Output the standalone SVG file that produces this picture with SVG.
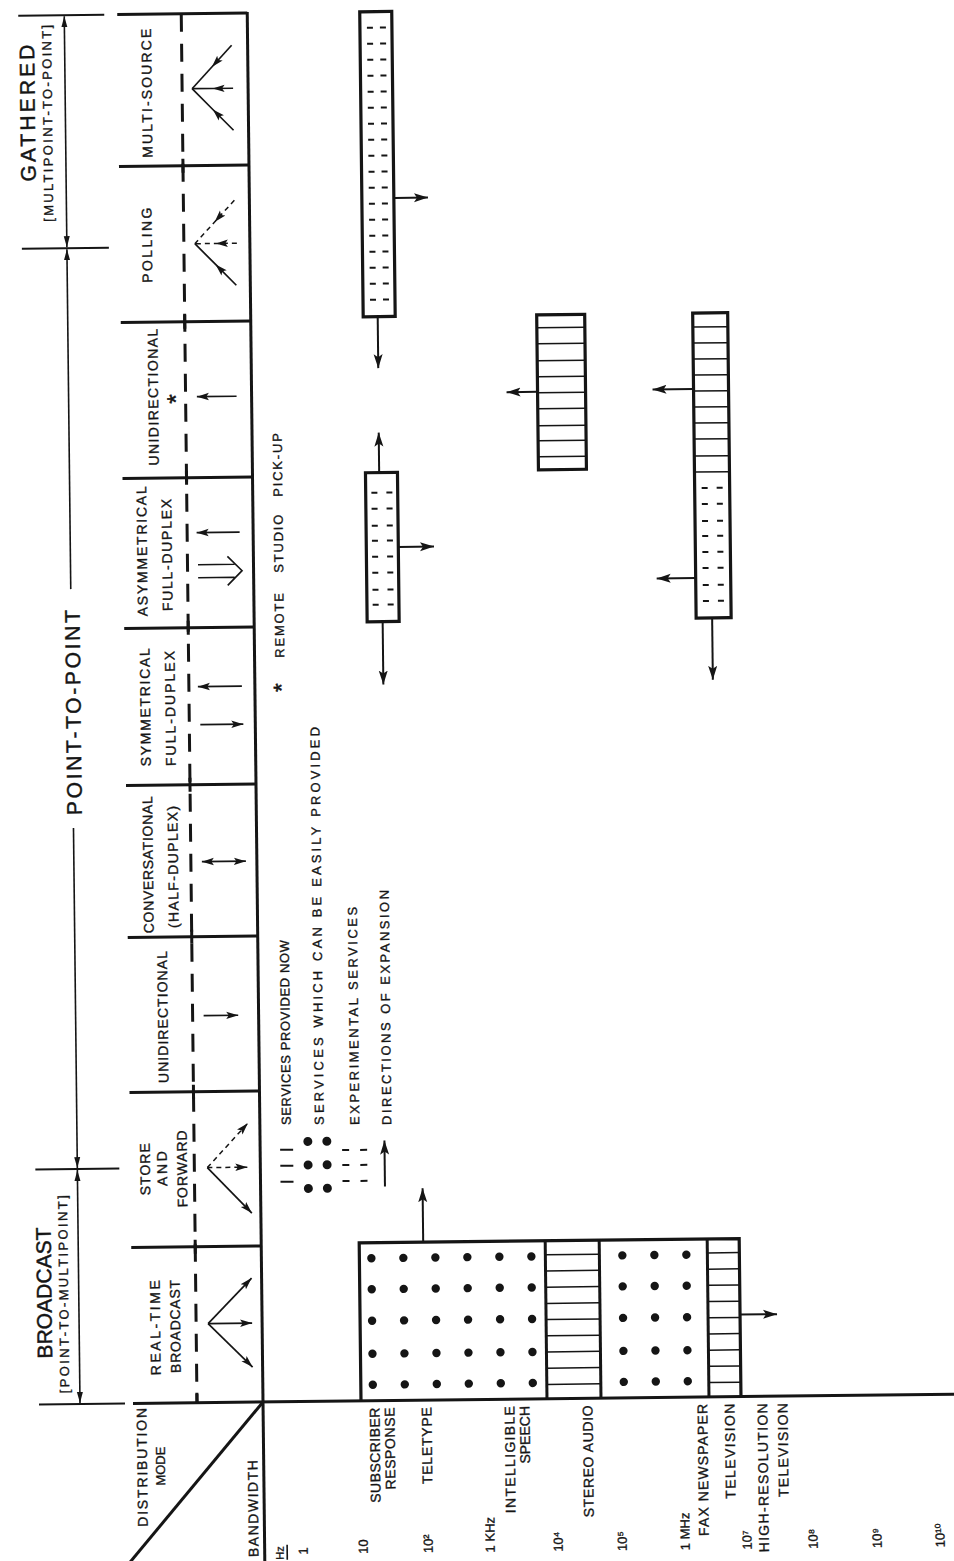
<svg xmlns="http://www.w3.org/2000/svg" width="954" height="1561" viewBox="0 0 954 1561">
<style>
 .ax{stroke:#151515;stroke-width:3;fill:none}
 .tk{stroke:#151515;stroke-width:2;fill:none}
 .dl{stroke:#151515;stroke-width:3;fill:none;stroke-dasharray:18 12}
 .br{stroke:#151515;stroke-width:1.6;fill:none}
 .ar{stroke:#151515;stroke-width:1.7;fill:none;marker-end:url(#ah)}
 .ard{stroke:#151515;stroke-width:1.5;fill:none;stroke-dasharray:5 4;marker-end:url(#ah)}
 .am{stroke:#151515;stroke-width:1.7;fill:none;marker-mid:url(#ah)}
 .amd{stroke:#151515;stroke-width:1.5;fill:none;stroke-dasharray:5 4;marker-mid:url(#ah)}
 .box{fill:none;stroke:#151515;stroke-width:3.2;stroke-linejoin:miter}
 .ht{stroke:#151515;stroke-width:1.5}
 .ds{stroke:#151515;stroke-width:2}
 .xp{stroke:#151515;stroke-width:2;fill:none;marker-end:url(#ahL)}
 .dot{fill:#151515}
 text{font-family:"Liberation Sans","DejaVu Sans",Arial,sans-serif;fill:#151515;stroke:#151515;stroke-width:0.35}
 .lb{font-size:14px}
 .lg{font-size:13px}
 .sc{font-size:13px}
 .big{font-size:21px;stroke-width:0.45}
 .ast{stroke-width:0.6}
</style>
<defs>
 <marker id="ah" markerUnits="userSpaceOnUse" markerWidth="14" markerHeight="10" refX="12" refY="5" orient="auto-start-reverse"><path d="M0,1.3 L12,5 L0,8.7 L2.5,5 Z" fill="#151515"/></marker>
 <marker id="ahL" markerUnits="userSpaceOnUse" markerWidth="16" markerHeight="12" refX="14" refY="6" orient="auto"><path d="M0,1.5 L14,6 L0,10.5 L3,6 Z" fill="#151515"/></marker>
 <marker id="ahB" markerUnits="userSpaceOnUse" markerWidth="12" markerHeight="8" refX="11" refY="4" orient="auto-start-reverse"><path d="M0,1 L11,4 L0,7 Z" fill="#151515"/></marker>
</defs>
<rect width="954" height="1561" fill="#ffffff"/>
<g transform="rotate(-0.65 263 1402)">

<g id="frame">
 <line class="ax" x1="263" y1="12" x2="263" y2="1570"/>
 <line class="ax" x1="133" y1="1402" x2="962" y2="1402"/>
 <line class="ax" x1="263" y1="1402" x2="122" y2="1568"/>
 <g class="ax">
  <line x1="133" y1="13" x2="263" y2="13"/>
  <line x1="133" y1="165" x2="263" y2="165"/>
  <line x1="133" y1="321" x2="263" y2="321"/>
  <line x1="133" y1="477" x2="263" y2="477"/>
  <line x1="133" y1="627" x2="263" y2="627"/>
  <line x1="133" y1="784" x2="263" y2="784"/>
  <line x1="133" y1="936" x2="263" y2="936"/>
  <line x1="133" y1="1091" x2="263" y2="1091"/>
  <line x1="133" y1="1246" x2="263" y2="1246"/>
 </g>
 <line class="dl" x1="197" y1="13" x2="197" y2="1402"/>
 <g class="ax">
  <line x1="197" y1="158" x2="197" y2="172"/>
  <line x1="197" y1="314" x2="197" y2="328"/>
  <line x1="197" y1="470" x2="197" y2="484"/>
  <line x1="197" y1="620" x2="197" y2="634"/>
  <line x1="197" y1="777" x2="197" y2="791"/>
  <line x1="197" y1="929" x2="197" y2="943"/>
  <line x1="197" y1="1084" x2="197" y2="1098"/>
  <line x1="197" y1="1239" x2="197" y2="1253"/>
  <line x1="197" y1="1392" x2="197" y2="1402"/>
 </g>
</g>

<g id="brackets">
 <g class="tk">
  <line x1="34" y1="13" x2="120" y2="13"/>
  <line x1="35" y1="246" x2="122" y2="246"/>
  <line x1="38" y1="1167" x2="122" y2="1167"/>
  <line x1="39" y1="1402" x2="125" y2="1402"/>
 </g>
 <line class="br" x1="80" y1="14" x2="80" y2="245" marker-start="url(#ahB)" marker-end="url(#ahB)"/>
 <line class="br" x1="80" y1="247" x2="80" y2="587" marker-start="url(#ahB)"/>
 <line class="br" x1="80" y1="826" x2="80" y2="1166" marker-end="url(#ahB)"/>
 <line class="br" x1="80" y1="1168" x2="80" y2="1401" marker-start="url(#ahB)" marker-end="url(#ahB)"/>
 <text class="big" transform="translate(49.5,110.5) rotate(-90)" text-anchor="middle" textLength="137" lengthAdjust="spacing">GATHERED</text>
 <text class="lg" transform="translate(66.7,121) rotate(-90)" text-anchor="middle" textLength="197" lengthAdjust="spacing">[MULTIPOINT-TO-POINT]</text>
 <text class="big" transform="translate(88.5,710.5) rotate(-90)" text-anchor="middle" textLength="205" lengthAdjust="spacing">POINT-TO-POINT</text>
 <text class="big" transform="translate(52.7,1290.5) rotate(-90)" text-anchor="middle" textLength="131" lengthAdjust="spacing">BROADCAST</text>
 <text class="lg" transform="translate(69.4,1292) rotate(-90)" text-anchor="middle" textLength="198" lengthAdjust="spacing">[POINT-TO-MULTIPOINT]</text>
</g>

<g id="cell-multi-source">
 <text class="lb" transform="translate(166.6,92) rotate(-90)" text-anchor="middle" textLength="129" lengthAdjust="spacing">MULTI-SOURCE</text>
 <path class="am" d="M247,45 L227,66.5 L207,88"/>
 <path class="am" d="M248,88 L227.5,88 L207,88"/>
 <path class="am" d="M248,130 L227.5,109 L207,88"/>
</g>
<g id="cell-polling">
 <text class="lb" transform="translate(165,244) rotate(-90)" text-anchor="middle" textLength="75" lengthAdjust="spacing">POLLING</text>
 <path class="amd" d="M248,200 L228,221.5 L208,243"/>
 <path class="amd" d="M250,243 L229,243 L208,243"/>
 <path class="am" d="M249,285 L228.5,264 L208,243"/>
</g>
<g id="cell-unidirectional-remote">
 <text class="lb" transform="translate(169.5,396) rotate(-90)" text-anchor="middle" textLength="137" lengthAdjust="spacing">UNIDIRECTIONAL</text>
 <text class="ast" transform="translate(195.3,398) rotate(-90)" text-anchor="middle" font-size="24">*</text>
 <path class="ar" d="M248,396 L208.3,396"/>
</g>
<g id="cell-asymmetrical">
 <text class="lb" transform="translate(156.5,550) rotate(-90)" text-anchor="middle" textLength="130" lengthAdjust="spacing">ASYMMETRICAL</text>
 <text class="lb" transform="translate(181.5,554) rotate(-90)" text-anchor="middle" textLength="112" lengthAdjust="spacing">FULL-DUPLEX</text>
 <path class="ar" d="M249.5,532 L206.5,532"/>
 <path class="br" d="M207.5,564 H244 M207.5,577 H244 M237,556 L251.5,570.5 L237,585"/>
</g>
<g id="cell-symmetrical">
 <text class="lb" transform="translate(158,706) rotate(-90)" text-anchor="middle" textLength="118" lengthAdjust="spacing">SYMMETRICAL</text>
 <text class="lb" transform="translate(183,707.5) rotate(-90)" text-anchor="middle" textLength="115" lengthAdjust="spacing">FULL-DUPLEX</text>
 <path class="ar" d="M250,686 L206,686"/>
 <path class="ar" d="M208,724 L251,724"/>
</g>
<g id="cell-conversational">
 <text class="lb" transform="translate(159,863.5) rotate(-90)" text-anchor="middle" textLength="137" lengthAdjust="spacing">CONVERSATIONAL</text>
 <text class="lb" transform="translate(184,866) rotate(-90)" text-anchor="middle" textLength="122" lengthAdjust="spacing">(HALF-DUPLEX)</text>
 <path class="ar" d="M208,861 L252,861" marker-start="url(#ah)"/>
</g>
<g id="cell-unidirectional">
 <text class="lb" transform="translate(172,1016) rotate(-90)" text-anchor="middle" textLength="132" lengthAdjust="spacing">UNIDIRECTIONAL</text>
 <path class="ar" d="M208,1015 L242.6,1015"/>
</g>
<g id="cell-store-forward">
 <text class="lb" transform="translate(152.6,1168) rotate(-90)" text-anchor="middle" textLength="52" lengthAdjust="spacing">STORE</text>
 <text class="lb" transform="translate(169.6,1167.5) rotate(-90)" text-anchor="middle" textLength="35" lengthAdjust="spacing">AND</text>
 <text class="lb" transform="translate(189.6,1168) rotate(-90)" text-anchor="middle" textLength="77" lengthAdjust="spacing">FORWARD</text>
 <path class="ard" d="M210,1167 L251,1123"/>
 <path class="ard" d="M210,1167 L250,1167"/>
 <path class="ar" d="M210,1167 L254,1213"/>
</g>
<g id="cell-real-time">
 <text class="lb" transform="translate(161,1326.5) rotate(-90)" text-anchor="middle" textLength="95" lengthAdjust="spacing">REAL-TIME</text>
 <text class="lb" transform="translate(181,1325.5) rotate(-90)" text-anchor="middle" textLength="93" lengthAdjust="spacing">BROADCAST</text>
 <path class="ar" d="M209,1323 L253,1278"/>
 <path class="ar" d="M209,1323 L253,1323"/>
 <path class="ar" d="M209,1323 L253,1367"/>
</g>

<g id="axis-labels">
 <text class="lb" transform="translate(146.3,1466) rotate(-90)" text-anchor="middle" textLength="119" lengthAdjust="spacing">DISTRIBUTION</text>
 <text class="lg" transform="translate(164.3,1465) rotate(-90)" text-anchor="middle">MODE</text>
 <text class="lb" transform="translate(256.8,1508.5) rotate(-90)" text-anchor="middle" textLength="97" lengthAdjust="spacing">BANDWIDTH</text>
 <text class="lb" transform="translate(379.4,1409) rotate(-90)" text-anchor="end" textLength="95" lengthAdjust="spacing">SUBSCRIBER</text>
 <text class="lb" transform="translate(394.4,1409) rotate(-90)" text-anchor="end" textLength="82" lengthAdjust="spacing">RESPONSE</text>
 <text class="lb" transform="translate(431.4,1409) rotate(-90)" text-anchor="end" textLength="77" lengthAdjust="spacing">TELETYPE</text>
 <text class="lb" transform="translate(514.3,1409) rotate(-90)" text-anchor="end" textLength="107" lengthAdjust="spacing">INTELLIGIBLE</text>
 <text class="lb" transform="translate(529.4,1409) rotate(-90)" text-anchor="end">SPEECH</text>
 <text class="lb" transform="translate(592.4,1409) rotate(-90)" text-anchor="end" textLength="112" lengthAdjust="spacing">STEREO AUDIO</text>
 <text class="lb" transform="translate(707.2,1409) rotate(-90)" text-anchor="end" textLength="132" lengthAdjust="spacing">FAX NEWSPAPER</text>
 <text class="lb" transform="translate(734.4,1409) rotate(-90)" text-anchor="end" textLength="95" lengthAdjust="spacing">TELEVISION</text>
 <text class="lb" transform="translate(767.2,1409) rotate(-90)" text-anchor="end" textLength="149" lengthAdjust="spacing">HIGH-RESOLUTION</text>
 <text class="lb" transform="translate(787.4,1409) rotate(-90)" text-anchor="end" textLength="94" lengthAdjust="spacing">TELEVISION</text>
</g>

<g id="scale">
 <text transform="translate(282,1560) rotate(-90)" font-size="11">Hz</text>
 <line class="br" x1="285.5" y1="1545" x2="285.5" y2="1560"/>
 <text class="sc" transform="translate(306,1555) rotate(-90)">1</text>
 <text class="sc" transform="translate(366,1555) rotate(-90)">10</text>
 <text class="sc" transform="translate(431,1555) rotate(-90)">10²</text>
 <text class="sc" transform="translate(493,1555) rotate(-90)">1 KHz</text>
 <text class="sc" transform="translate(561,1555) rotate(-90)">10⁴</text>
 <text class="sc" transform="translate(625,1555) rotate(-90)">10⁵</text>
 <text class="sc" transform="translate(688,1555) rotate(-90)">1 MHz</text>
 <text class="sc" transform="translate(750,1555) rotate(-90)">10⁷</text>
 <text class="sc" transform="translate(816,1555) rotate(-90)">10⁸</text>
 <text class="sc" transform="translate(880,1555) rotate(-90)">10⁹</text>
 <text class="sc" transform="translate(943,1555) rotate(-90)">10¹⁰</text>
</g>

<g id="legend">
 <g class="tk">
  <line x1="283" y1="1150" x2="296" y2="1150"/>
  <line x1="283" y1="1166" x2="296" y2="1166"/>
  <line x1="283" y1="1182" x2="296" y2="1182"/>
 </g>
 <g class="dot">
  <circle cx="310.8" cy="1142" r="4.5"/><circle cx="329.8" cy="1142" r="4.5"/>
  <circle cx="310.8" cy="1165.5" r="4.5"/><circle cx="329.8" cy="1165.5" r="4.5"/>
  <circle cx="310.8" cy="1189" r="4.5"/><circle cx="329.8" cy="1189" r="4.5"/>
 </g>
 <g class="ds">
  <line x1="345" y1="1151" x2="352" y2="1151"/><line x1="363" y1="1151" x2="370" y2="1151"/>
  <line x1="345" y1="1166" x2="352" y2="1166"/><line x1="363" y1="1166" x2="370" y2="1166"/>
  <line x1="345" y1="1182" x2="352" y2="1182"/><line x1="363" y1="1182" x2="370" y2="1182"/>
 </g>
 <line class="xp" x1="387.4" y1="1188" x2="387.4" y2="1142"/>
 <text class="lg" transform="translate(294,1125.3) rotate(-90)" textLength="185" lengthAdjust="spacing">SERVICES PROVIDED NOW</text>
 <text class="lg" transform="translate(327,1125.6) rotate(-90)" textLength="398" lengthAdjust="spacing">SERVICES WHICH CAN BE EASILY PROVIDED</text>
 <text class="lg" transform="translate(362.4,1126) rotate(-90)" textLength="218" lengthAdjust="spacing">EXPERIMENTAL SERVICES</text>
 <text class="lg" transform="translate(394.5,1126.4) rotate(-90)" textLength="235" lengthAdjust="spacing">DIRECTIONS OF EXPANSION</text>
 <text class="lg" transform="translate(292.7,695) rotate(-90)" letter-spacing="1.8"><tspan x="3" font-size="22" dy="4.3" stroke-width="0.6">*</tspan><tspan x="37" dy="-4.3">REMOTE</tspan><tspan x="122">STUDIO</tspan><tspan x="198">PICK-UP</tspan></text>
</g>

<g id="box-broadcast">
 <path class="box" d="M361,1402 V1244 H741 V1402"/>
 <g class="ax">
  <line x1="547" y1="1244" x2="547" y2="1402"/>
  <line x1="601" y1="1244" x2="601" y2="1402"/>
  <line x1="709" y1="1244" x2="709" y2="1402"/>
 </g>
 <g class="dot">
  <circle cx="373" cy="1259.5" r="4.2"/><circle cx="405" cy="1259.5" r="4.2"/><circle cx="437" cy="1259.5" r="4.2"/><circle cx="469" cy="1259.5" r="4.2"/><circle cx="501" cy="1259.5" r="4.2"/><circle cx="533" cy="1259.5" r="4.2"/>
  <circle cx="373" cy="1290.5" r="4.2"/><circle cx="405" cy="1290.5" r="4.2"/><circle cx="437" cy="1290.5" r="4.2"/><circle cx="469" cy="1290.5" r="4.2"/><circle cx="501" cy="1290.5" r="4.2"/><circle cx="533" cy="1290.5" r="4.2"/>
  <circle cx="373" cy="1322" r="4.2"/><circle cx="405" cy="1322" r="4.2"/><circle cx="437" cy="1322" r="4.2"/><circle cx="469" cy="1322" r="4.2"/><circle cx="501" cy="1322" r="4.2"/><circle cx="533" cy="1322" r="4.2"/>
  <circle cx="373" cy="1355" r="4.2"/><circle cx="405" cy="1355" r="4.2"/><circle cx="437" cy="1355" r="4.2"/><circle cx="469" cy="1355" r="4.2"/><circle cx="501" cy="1355" r="4.2"/><circle cx="533" cy="1355" r="4.2"/>
  <circle cx="373" cy="1386" r="4.2"/><circle cx="405" cy="1386" r="4.2"/><circle cx="437" cy="1386" r="4.2"/><circle cx="469" cy="1386" r="4.2"/><circle cx="501" cy="1386" r="4.2"/><circle cx="533" cy="1386" r="4.2"/>
  <circle cx="624" cy="1259.5" r="4.2"/><circle cx="656" cy="1259.5" r="4.2"/><circle cx="688" cy="1259.5" r="4.2"/>
  <circle cx="624" cy="1290.5" r="4.2"/><circle cx="656" cy="1290.5" r="4.2"/><circle cx="688" cy="1290.5" r="4.2"/>
  <circle cx="624" cy="1322" r="4.2"/><circle cx="656" cy="1322" r="4.2"/><circle cx="688" cy="1322" r="4.2"/>
  <circle cx="624" cy="1355" r="4.2"/><circle cx="656" cy="1355" r="4.2"/><circle cx="688" cy="1355" r="4.2"/>
  <circle cx="624" cy="1386" r="4.2"/><circle cx="656" cy="1386" r="4.2"/><circle cx="688" cy="1386" r="4.2"/>
 </g>
 <path class="ht" d="M547,1258H601M547,1274.2H601M547,1290.4H601M547,1306.6H601M547,1322.8H601M547,1339H601M547,1355.2H601M547,1371.4H601M547,1387.6H601"/>
 <path class="ht" d="M709,1258H741M709,1274.2H741M709,1290.4H741M709,1306.6H741M709,1322.8H741M709,1339H741M709,1355.2H741M709,1371.4H741M709,1387.6H741"/>
</g>

<g id="box-gathered">
 <rect class="box" x="375.5" y="13" width="32" height="305"/>
 <path class="ds" d="M382.5,29h6M395.5,29h6M382.5,45h6M395.5,45h6M382.5,61h6M395.5,61h6M382.5,77h6M395.5,77h6M382.5,93h6M395.5,93h6M382.5,109h6M395.5,109h6M382.5,125h6M395.5,125h6M382.5,141h6M395.5,141h6M382.5,157h6M395.5,157h6M382.5,173h6M395.5,173h6M382.5,189h6M395.5,189h6M382.5,205h6M395.5,205h6M382.5,221h6M395.5,221h6M382.5,237h6M395.5,237h6M382.5,253h6M395.5,253h6M382.5,269h6M395.5,269h6M382.5,285h6M395.5,285h6M382.5,301h6M395.5,301h6"/>
</g>

<g id="box-asymmetrical-exp">
 <rect class="box" x="376" y="474" width="32" height="149"/>
 <path class="ds" d="M381.7,494h6M396.7,494h6M381.7,510h6M396.7,510h6M381.7,527h6M396.7,527h6M381.7,542h6M396.7,542h6M381.7,558h6M396.7,558h6M381.7,574h6M396.7,574h6M381.7,591h6M396.7,591h6M381.7,606h6M396.7,606h6"/>
</g>

<g id="box-remote-pickup">
 <rect class="box" x="549" y="318" width="48" height="155"/>
 <path class="ht" d="M549,331H597M549,347H597M549,364H597M549,380H597M549,396H597M549,412H597M549,429H597M549,444H597M549,460H597"/>
</g>

<g id="box-hd-video">
 <rect class="box" x="705" y="318" width="35" height="305"/>
 <path class="ht" d="M705,332H740M705,348H740M705,364H740M705,380H740M705,396H740M705,412H740M705,428H740M705,444H740M705,461H740M705,477H740"/>
 <path class="ds" d="M712,493h6M727,493h6M712,509h6M727,509h6M712,526h6M727,526h6M712,541h6M727,541h6M712,557h6M727,557h6M712,573h6M727,573h6M712,590h6M727,590h6M712,606h6M727,606h6"/>
</g>

<g id="connectors">
 <line class="xp" x1="425" y1="1244" x2="425" y2="1190"/>
 <line class="xp" x1="741" y1="1320" x2="778" y2="1320"/>
 <line class="xp" x1="408" y1="199.5" x2="441.6" y2="199.5"/>
 <line class="xp" x1="390" y1="318" x2="390" y2="369.5"/>
 <line class="xp" x1="389.7" y1="474" x2="389.7" y2="434"/>
 <line class="xp" x1="408" y1="548.5" x2="443.7" y2="548.5"/>
 <line class="xp" x1="391.5" y1="623" x2="391.5" y2="686"/>
 <line class="xp" x1="549" y1="395" x2="518" y2="395"/>
 <line class="xp" x1="705" y1="394" x2="664" y2="394"/>
 <line class="xp" x1="705" y1="583" x2="666" y2="583"/>
 <line class="xp" x1="721" y1="623" x2="721" y2="685"/>
</g>

</g>
</svg>
